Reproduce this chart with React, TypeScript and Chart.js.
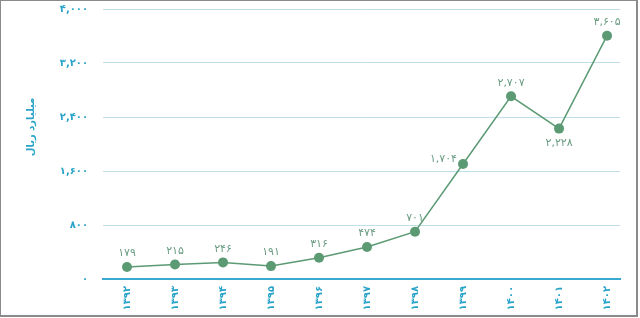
import React, { useEffect, useRef } from 'react';
import { Chart, registerables } from 'chart.js';

Chart.register(...registerables);

// ---- data ----
const years = ['۱۳۹۲', '۱۳۹۳', '۱۳۹۴', '۱۳۹۵', '۱۳۹۶', '۱۳۹۷', '۱۳۹۸', '۱۳۹۹', '۱۴۰۰', '۱۴۰۱', '۱۴۰۲'];
const values = [179, 215, 246, 191, 316, 474, 701, 1704, 2707, 2228, 3605];
const labelPlacement = ['top', 'top', 'top', 'top', 'top', 'top', 'top', 'left', 'top', 'bottom', 'top'];
const yTickValues = [0, 800, 1600, 2400, 3200, 4000];
const yTitle = 'میلیارد ریال';

const FA_DIGITS = '۰۱۲۳۴۵۶۷۸۹';
const toFa = (n: number) =>
  n.toLocaleString('en-US').replace(/\d/g, (d) => FA_DIGITS[+d]);

const FONT = '"DejaVu Sans", "Noto Sans", sans-serif';
const BLUE = '#2aa3c8';
const GREEN = '#5b9a73';
const LABEL = '#6a9c83';

const dataLabelPlugin = {
  id: 'dataLabels',
  afterDatasetsDraw(chart: any) {
    const ctx = chart.ctx;
    const meta = chart.getDatasetMeta(0);
    ctx.save();
    ctx.font = `11px ${FONT}`;
    ctx.fillStyle = LABEL;
    meta.data.forEach((pt: any, i: number) => {
      const txt = toFa(values[i]);
      const p = labelPlacement[i];
      if (p === 'top') {
        ctx.textAlign = 'center';
        ctx.textBaseline = 'bottom';
        ctx.fillText(txt, pt.x, pt.y - 8);
      } else if (p === 'bottom') {
        ctx.textAlign = 'center';
        ctx.textBaseline = 'top';
        ctx.fillText(txt, pt.x, pt.y + 9);
      } else {
        ctx.textAlign = 'right';
        ctx.textBaseline = 'middle';
        ctx.fillText(txt, pt.x - 6, pt.y - 5);
      }
    });
    ctx.restore();
  },
};

const yTitlePlugin = {
  id: 'yTitleCustom',
  afterDraw(chart: any) {
    const ctx = chart.ctx;
    ctx.save();
    ctx.translate(30, 126);
    ctx.rotate(-Math.PI / 2);
    ctx.font = `bold 10px ${FONT}`;
    ctx.fillStyle = BLUE;
    ctx.textAlign = 'center';
    ctx.textBaseline = 'middle';
    ctx.fillText(yTitle, 0, 0);
    ctx.restore();
  },
};

export default function App() {
  const ref = useRef<HTMLCanvasElement | null>(null);

  useEffect(() => {
    if (!ref.current) return;
    const chart = new Chart(ref.current, {
      type: 'line',
      data: {
        datasets: [
          {
            data: values.map((v, i) => ({ x: i, y: v })),
            borderColor: GREEN,
            backgroundColor: GREEN,
            borderWidth: 1.5,
            pointRadius: 5,
            pointBackgroundColor: GREEN,
            pointBorderColor: GREEN,
            pointBorderWidth: 0,
            tension: 0,
          },
        ],
      },
      options: {
        animation: false,
        responsive: false,
        maintainAspectRatio: false,
        layout: { padding: { top: 8, right: 16, left: 0, bottom: 0 } },
        plugins: {
          legend: { display: false },
          tooltip: { enabled: false },
        },
        scales: {
          x: {
            type: 'linear',
            min: -0.5,
            max: 10.27,
            afterBuildTicks: (scale: any) => {
              scale.ticks = years.map((_, i) => ({ value: i }));
            },
            afterFit: (scale: any) => {
              scale.height = 36;
              scale.paddingLeft = 0;
              scale.paddingRight = 0;
              scale.paddingTop = 0;
              scale.paddingBottom = 0;
            },
            grid: { display: false, drawTicks: false },
            border: { display: true, color: '#3aa9d1', width: 2 },
            ticks: {
              autoSkip: false,
              minRotation: 90,
              maxRotation: 90,
              padding: 7,
              color: BLUE,
              font: { family: FONT, size: 10, weight: 'bold' },
              callback: (v: any) => years[v] ?? '',
            },
          },
          y: {
            min: 0,
            max: 4000,
            afterBuildTicks: (scale: any) => {
              scale.ticks = yTickValues.map((v) => ({ value: v }));
            },
            afterFit: (scale: any) => {
              scale.width = 102;
              scale.paddingTop = 0;
              scale.paddingBottom = 0;
              scale.paddingLeft = 0;
              scale.paddingRight = 0;
            },
            grid: { color: '#bfe0ea', lineWidth: 1, drawTicks: false },
            border: { display: false },
            ticks: {
              padding: 15,
              color: BLUE,
              font: { family: FONT, size: 10, weight: 'bold' },
              callback: (v: any) => toFa(Number(v)),
            },
          },
        },
      },
      plugins: [dataLabelPlugin, yTitlePlugin],
    } as any);
    return () => chart.destroy();
  }, []);

  return (
    <div
      style={{
        position: 'fixed',
        left: 0,
        top: 0,
        width: 638,
        height: 317,
        border: '1px solid #8a8a8a',
        borderRight: '2px solid #8a8a8a',
        borderBottom: '2px solid #8a8a8a',
        boxSizing: 'border-box',
        background: '#fff',
      }}
    >
      <canvas ref={ref} width={635} height={314} style={{ display: 'block' }} />
    </div>
  );
}
